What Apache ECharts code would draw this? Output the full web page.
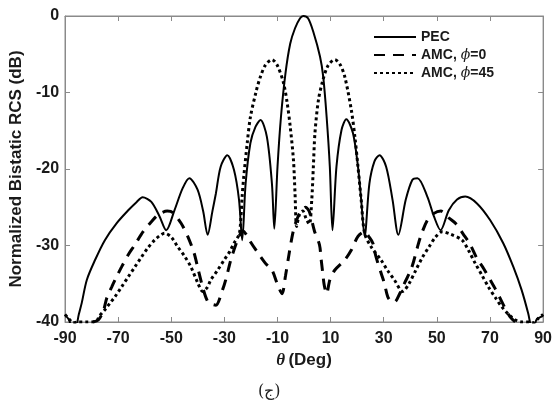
<!DOCTYPE html>
<html>
<head>
<meta charset="utf-8">
<script src="https://cdn.jsdelivr.net/npm/echarts@6/dist/echarts.min.js"></script>
<style>
html,body{margin:0;padding:0;background:#fff;}
#chart{width:555px;height:401px;}
</style>
</head>
<body>
<div id="chart"></div>
<script>
// ---- data ----
var xTicks = [-90, -70, -50, -30, -10, 10, 30, 50, 70, 90];
var yTicks = [0, -10, -20, -30, -40];

var pecTheta = [-90, -88.5, -87.3, -86, -84.8, -83.7, -81.8, -78.7, -75, -70.6, -66.2, -63, -60.8, -57.5, -54.4, -51.9, -48.8, -45.7, -43.2, -40.1, -38, -36.3, -34.5, -33.2, -31.4, -28.9, -26.4, -24.5, -23.3, -22, -20.2, -18.3, -16.4, -14, -12.1, -11.2, -10, -8.7, -7, -5.2, -3.4, -1.5, -0.3, 1.5, 3.5, 6, 7.2, 8.5, 9.7, 10.7, 12.2, 14.1, 15.9, 18.4, 20.3, 21.5, 22.8, 24.6, 26.5, 28.4, 30.9, 33.3, 35.5, 38.3, 40.8, 42.7, 46.4, 48.9, 51.4, 54.5, 57.6, 60.7, 65.1, 70.1, 75, 78.8, 81.9, 84.4, 85.4, 86.3, 87.5, 89.4, 90];
var pecDb = [-39.1, -39.7, -41, -40.8, -39, -37.5, -34.5, -31.9, -29.3, -27.1, -25.4, -24.3, -23.7, -24.3, -26.2, -28, -25.4, -22.5, -21.2, -22.7, -25.5, -28.6, -25.5, -23.2, -19.7, -18.2, -20.1, -24, -29.3, -21.9, -16.6, -14.5, -13.6, -15.8, -21.9, -27.8, -19.7, -13.2, -7.5, -3.6, -1.6, -0.3, 0, -0.3, -2.1, -5.3, -7.9, -13.2, -19.7, -28, -19.7, -14.9, -13.5, -15.3, -19.7, -24, -28.8, -21.9, -19, -18.2, -19.7, -24, -28.6, -24, -21.4, -21.2, -23.6, -26.2, -28, -25.4, -24, -23.6, -24.5, -26.7, -29.7, -32.8, -35.8, -38.9, -40.5, -41, -39.7, -39.3, -39.2];

var amc0Theta = [-79.5, -77.4, -75.6, -74.3, -72.4, -70.6, -68.7, -66.2, -63.7, -60.6, -57.5, -55, -51.5, -49.4, -46.3, -43.8, -41.4, -40.1, -38.2, -36.3, -34.5, -33.2, -30.7, -29.5, -27.6, -26.4, -24.5, -23, -21.5, -20.2, -17.7, -14.6, -12.1, -10.2, -8.3, -7, -5.5, -4, -2.6, -1, 0.5, 2, 3.9, 5.8, 6.4, 7, 7.6, 8.5, 9.7, 11.6, 15.3, 17.8, 20.3, 22.8, 24.5, 25.9, 27.1, 29, 30.2, 31.5, 32.7, 34, 36, 38, 40.2, 41.4, 42.7, 43.9, 46.4, 48.9, 51.5, 54.5, 57, 60.1, 62.6, 65.1, 67.6, 70.1, 71.9, 74.4, 75.7, 77.5, 79.5];
var amc0Db = [-40, -39.7, -38.6, -36.9, -35.4, -34.1, -32.8, -31.2, -29.9, -28.2, -26.9, -26, -25.5, -25.7, -27.1, -28.8, -31, -32.8, -35.4, -37.3, -37.7, -37.8, -35.8, -34.5, -31.9, -30.6, -28.8, -28.1, -28.7, -29.5, -30.8, -32.3, -33.2, -34.9, -36.3, -34, -30.8, -28, -26.5, -25.4, -25, -25.6, -28.1, -29.9, -31.7, -33.5, -35.2, -36.3, -34.5, -33.2, -31.9, -30.6, -28.8, -28.2, -28.9, -29.7, -31.5, -33.6, -34.9, -36.7, -37.3, -37.4, -36.3, -34.8, -33.2, -31.9, -30.2, -28.8, -26.7, -25.8, -25.5, -26.4, -27.1, -28.6, -29.9, -31.7, -33, -34.5, -35.6, -37.3, -38.2, -39.3, -40];

var amc45Theta = [-90, -88.5, -87, -85, -82, -79.5, -78, -77, -75, -73, -71.2, -68.5, -66.2, -63.7, -61.2, -58.8, -56.3, -54.3, -52.5, -50, -47.5, -45, -42.6, -40, -38.2, -36.5, -35.1, -32.5, -30.1, -28, -26.4, -24.5, -23.9, -23.3, -22.7, -21.4, -20.2, -18, -16.4, -14.5, -12.1, -10, -7.7, -6.3, -5.2, -4, -3.4, -2.8, -1.8, -0.5, 0.8, 2, 2.9, 3.5, 4.1, 5.4, 7, 9, 11.6, 13.5, 15.3, 17.8, 19.2, 20.3, 21.5, 22.8, 25.3, 29, 31.5, 34, 37.1, 39.5, 42.1, 44.5, 47, 49.5, 52, 55, 59.5, 62, 64.4, 67, 69.4, 72, 74.4, 77, 79.4, 82, 84.4, 86.5, 88, 90];
var amc45Db = [-39, -39.6, -40.1, -40, -40, -40, -39.8, -39.2, -38.4, -37.5, -36.7, -35.3, -34.1, -32.8, -31.5, -30.3, -29.3, -28.7, -28.4, -28.9, -30.2, -31.4, -32.8, -34.9, -36, -35.5, -34.5, -33.2, -31.9, -30.8, -29.7, -28.6, -27, -23.5, -21, -16.6, -13.2, -9.8, -7.9, -6.4, -5.7, -6.5, -8.8, -11.5, -14.5, -18.8, -23.2, -27.5, -26, -25.5, -26.5, -27.2, -24, -19.7, -15.3, -11, -8.5, -6.5, -5.7, -6.3, -7.9, -12.3, -16, -19.7, -24, -28.4, -30.2, -31.9, -33.3, -34.5, -36, -35, -33.2, -31.6, -30.2, -28.9, -28.2, -28.5, -29.3, -30.7, -32.3, -33.9, -35.4, -36.8, -38, -39, -39.7, -40, -40, -40.1, -39.6, -39];

var seriesNames = ['PEC', 'AMC, \u03D5=0', 'AMC, \u03D5=45'];

function pairs(xs, ys) {
  var out = [];
  for (var i = 0; i < xs.length; i++) out.push([xs[i], ys[i]]);
  return out;
}

var axisGray = '#8a8a8a';
var labelFont = '"Liberation Sans", Arial, sans-serif';

var chart = echarts.init(document.getElementById('chart'), null, {renderer: 'canvas'});

var baseX = {
  type: 'value', min: -90, max: 90,
  axisLine: {show: true, onZero: false, lineStyle: {color: axisGray, width: 1}},
  axisTick: {show: true, inside: true, length: 5, customValues: xTicks, lineStyle: {color: axisGray}},
  splitLine: {show: false}
};
var baseY = {
  type: 'value', min: -40, max: 0, interval: 10,
  axisLine: {show: true, onZero: false, lineStyle: {color: axisGray, width: 1}},
  axisTick: {show: true, inside: true, length: 5, lineStyle: {color: axisGray}},
  splitLine: {show: false}
};

var option = {
  animation: false,
  backgroundColor: '#fff',
  grid: {left: 63, right: 10, top: 16, bottom: 79, show: true, borderColor: axisGray, borderWidth: 1, containLabel: false},
  xAxis: [
    Object.assign({}, baseX, {
      position: 'bottom',
      axisLabel: {show: true, customValues: xTicks, margin: 9, color: '#1a1a1a', fontFamily: labelFont, fontWeight: 'bold', fontSize: 16},
      name: '{t|\u03B8} {d|(Deg)}',
      nameLocation: 'middle',
      nameGap: 28,
      nameTextStyle: {
        rich: {
          t: {fontFamily: '"Liberation Serif", "DejaVu Serif", serif', fontStyle: 'italic', fontWeight: 'bold', fontSize: 17, color: '#1a1a1a'},
          d: {fontFamily: labelFont, fontWeight: 'bold', fontSize: 17, color: '#1a1a1a'}
        }
      }
    }),
    Object.assign({}, baseX, {position: 'top', axisLabel: {show: false}})
  ],
  yAxis: [
    Object.assign({}, baseY, {
      position: 'left',
      axisLabel: {show: true, margin: 6, color: '#1a1a1a', fontFamily: labelFont, fontWeight: 'bold', fontSize: 16},
      name: 'Normalized Bistatic RCS (dB)',
      nameLocation: 'middle',
      nameGap: 27,
      nameTextStyle: {fontFamily: labelFont, fontWeight: 'bold', fontSize: 17, color: '#1a1a1a'}
    }),
    Object.assign({}, baseY, {position: 'right', axisLabel: {show: false}})
  ],
  legend: {
    orient: 'vertical',
    left: 368,
    top: 25,
    itemWidth: 42,
    itemHeight: 14,
    itemGap: 4,
    data: seriesNames,
    itemStyle: {opacity: 0},
    formatter: function (name) {
      if (name === 'PEC') return '{b|PEC}';
      var parts = name.split('\u03D5');
      return '{b|' + parts[0] + '}{p|\u03D5}{b|' + parts[1] + '}';
    },
    textStyle: {
      rich: {
        b: {fontFamily: labelFont, fontWeight: 'bold', fontSize: 14, color: '#1a1a1a'},
        p: {fontFamily: '"DejaVu Serif", "Liberation Serif", serif', fontStyle: 'italic', fontSize: 14, color: '#1a1a1a'}
      }
    }
  },
  graphic: [{
    type: 'text',
    left: 258,
    top: 384,
    style: {text: '(\u062C)', font: '16px "DejaVu Serif", "Liberation Serif", serif', fill: '#222'}
  }],
  series: [
    {
      name: seriesNames[0], type: 'line', xAxisIndex: 0, yAxisIndex: 0,
      data: pairs(pecTheta, pecDb), showSymbol: false, symbol: 'none', smooth: 0.3, clip: true,
      itemStyle: {color: '#000'},
      lineStyle: {color: '#000', width: 2, type: 'solid'}
    },
    {
      name: seriesNames[1], type: 'line', xAxisIndex: 0, yAxisIndex: 0,
      data: pairs(amc0Theta, amc0Db), showSymbol: false, symbol: 'none', smooth: 0.3, clip: true,
      itemStyle: {color: '#000'},
      lineStyle: {color: '#000', width: 3, type: [11, 8], cap: 'butt'}
    },
    {
      name: seriesNames[2], type: 'line', xAxisIndex: 0, yAxisIndex: 0,
      data: pairs(amc45Theta, amc45Db), showSymbol: false, symbol: 'none', smooth: 0.3, clip: true,
      itemStyle: {color: '#000'},
      lineStyle: {color: '#000', width: 3, type: [3, 3], cap: 'butt'}
    }
  ]
};
chart.setOption(option);
</script>
</body>
</html>
